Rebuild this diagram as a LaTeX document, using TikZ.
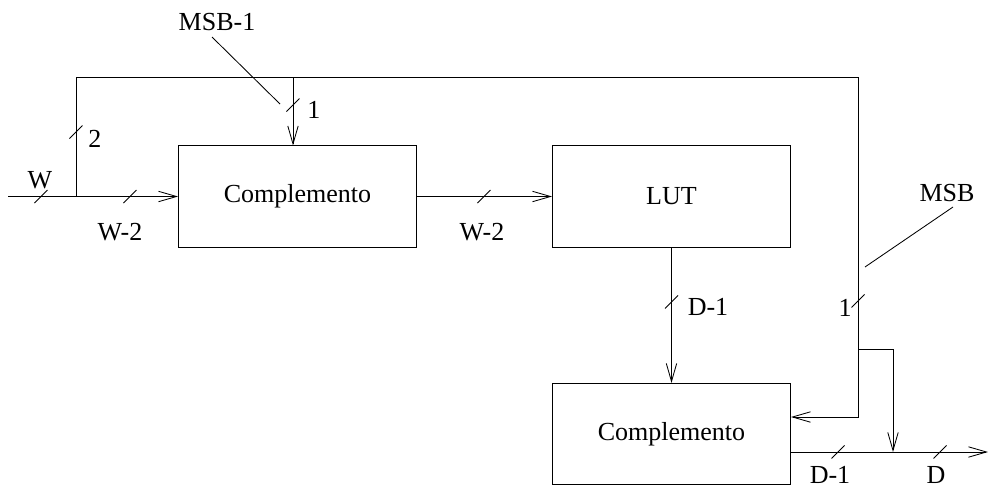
\documentclass[tikz,border=0pt]{standalone}
\usepackage{fontspec}
\setmainfont{Liberation Serif}
\usetikzlibrary{arrows.meta}

\tikzset{
  blk/.style = {draw, line width=0.6pt, minimum width=5.95cm, minimum height=2.53cm, inner sep=0pt},
  sig/.style = {line width=0.6pt, -{Straight Barb[length=4.5mm,width=2.6mm,line width=0.6pt]}},
  wire/.style = {line width=0.6pt},
  lbl/.style = {inner sep=0pt}
}

\begin{document}
\begin{tikzpicture}[x=0.025cm, y=-0.025cm, font=\fontsize{18.5}{22}\selectfont]

\useasboundingbox (0,0) rectangle (988,488);

% blocks
\node[blk] (cmpA) at (297.5,196.5) {Complemento};
\node[blk] (lut)  at (671.5,196.5) {LUT};
\node[blk] (cmpB) at (671.5,434) {Complemento};

% junctions
\coordinate (in)    at (8,196.5);
\coordinate (split) at (76,196.5);
\coordinate (topL)  at (76,77);
\coordinate (topM)  at (293,77);
\coordinate (topR)  at (858,77);
\coordinate (fb)    at (858,417);
\coordinate (br)    at (858,349);
\coordinate (brR)   at (893,349);
\coordinate (outJ)  at (893,452);
\coordinate (out)   at (988,452);

% signals
\draw[sig] (in) -- (cmpA.west);
\draw[sig] (split) -- (topL) -- (topR) -- (fb) -- (cmpB.east |- fb);
\draw[sig] (topM) -- (topM |- cmpA.north);
\draw[sig] (cmpA.east) -- (lut.west);
\draw[sig] (lut.south) -- (cmpB.north);
\draw[sig] (cmpB.east |- out) -- (out);
\draw[sig] (br) -- (brR) -- (outJ);

% bus width marks
\foreach \p in {(41,196.5),(130,196.5),(76,132),(293,105),(484,196.5),(671.5,302),(858,301),(838,452),(940,452)}
  {\draw[wire] \p ++(-6.5,6.5) -- ++(13,-13);}

% labels
\node[lbl] (lW)   at (40,180)  {W};
\node[lbl] (lWa)  at (120,232) {W-2};
\node[lbl] (l2)   at (95,139)  {2};
\node[lbl] (l1a)  at (314,110) {1};
\node[lbl] (lWb)  at (482,232) {W-2};
\node[lbl] (lD1a) at (708,307) {D-1};
\node[lbl] (l1b)  at (845,308) {1};
\node[lbl] (lD1b) at (830,475) {D-1};
\node[lbl] (lD)   at (936,475) {D};
\node[lbl] (lmsb1) at (217,22) {MSB-1};
\node[lbl] (lmsb)  at (947,193) {MSB};

% pointers
\coordinate (p1a) at (212,37);
\coordinate (p1b) at (280,104);
\coordinate (p2a) at (953,207);
\coordinate (p2b) at (865,267);
\draw[wire] (p1a) -- (p1b);
\draw[wire] (p2a) -- (p2b);

\end{tikzpicture}
\end{document}
